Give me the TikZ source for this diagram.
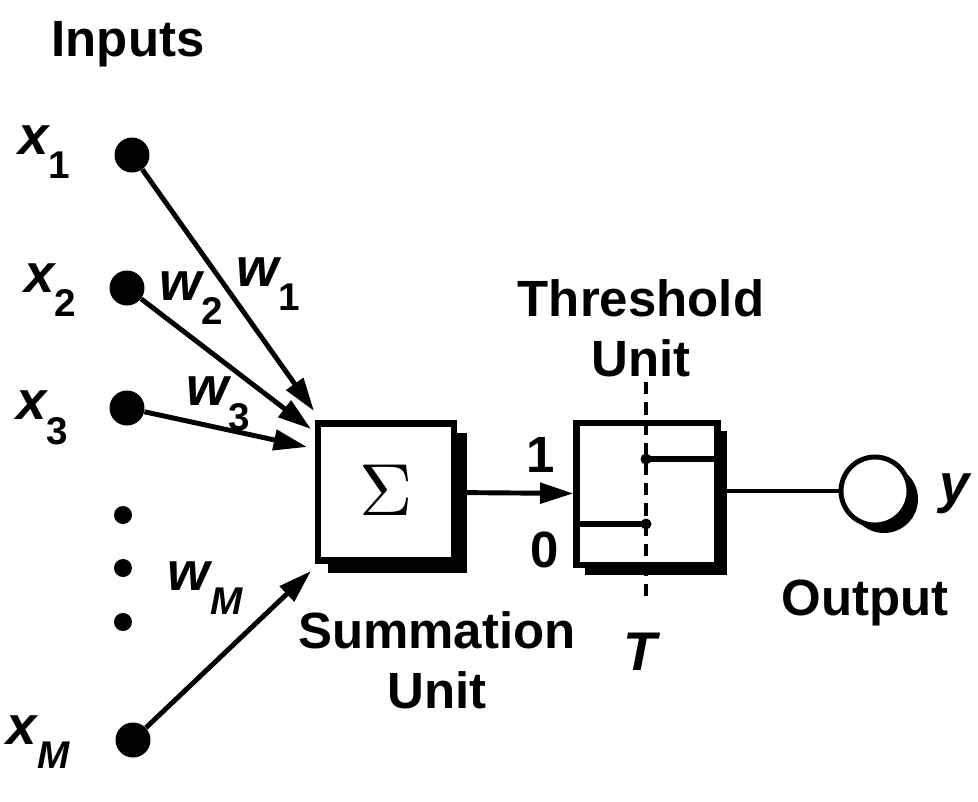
\documentclass[tikz,border=0pt]{standalone}
\usepackage{fontspec}
\usepackage{graphicx}
\setmainfont{Liberation Sans}
\usetikzlibrary{arrows.meta}
\newcommand\subup[1]{\raisebox{-0.45em}{\fontsize{22}{22}\selectfont\upshape #1}}
\newcommand\subit[1]{\raisebox{-0.45em}{\fontsize{22}{22}\selectfont\itshape #1}}
\begin{document}
\begin{tikzpicture}[x=0.02cm,y=-0.02cm,
 lbl/.style={font=\fontsize{29}{34}\selectfont\bfseries, inner sep=0, align=center},
 var/.style={font=\fontsize{31}{31}\selectfont\bfseries\itshape, inner sep=0},
 dot/.style={circle, fill=black, minimum size=0.7cm, inner sep=0},
 smalldot/.style={circle, fill=black, minimum size=0.36cm, inner sep=0},
 wire/.style={line width=2.8pt},
 arr/.style={wire, -{Triangle[length=19pt,width=11.5pt]}},
 boxline/.style={draw, line width=3.6pt, fill=white},
 shadowfill/.style={fill=black},
 dashline/.style={line width=2.8pt, dash pattern=on 7pt off 4.5pt},
 stepline/.style={line width=3.2pt},
 stepdot/.style={circle, fill=black, minimum size=0.22cm, inner sep=0}]
\useasboundingbox (0,0) rectangle (978,802);

% title
\node[lbl] (inputs) at (128,44) {Inputs};

% input dots
\node[dot] (x1) at (132,155) {};
\node[dot] (x2) at (127,288) {};
\node[dot] (x3) at (127,408) {};
\node[smalldot] (d1) at (123,515) {};
\node[smalldot] (d2) at (123,568) {};
\node[smalldot] (d3) at (123,622) {};
\node[dot] (xM) at (133,740) {};

% input labels
\node[var] (lx1) at (44,152) {x\subup{1}};
\node[var] (lx2) at (50,290) {x\subup{2}};
\node[var] (lx3) at (42,418) {x\subup{3}};
\node[var] (lxM) at (38,742) {x\subit{M}};

% summation unit
\fill[shadowfill] (328,433) rectangle (467,573);
\node[boxline, minimum width=2.72cm, minimum height=2.74cm, inner sep=0] (sum) at (386,492) {};
\node (sigma) at (386,490) {\scalebox{4.2}{$\Sigma$}};
\node[lbl] (sumlbl) at (437,660) {Summation\\Unit};

% arrow targets
\coordinate (t1) at (314,411);
\coordinate (t2) at (311,429);
\coordinate (t3) at (307,447);
\coordinate (tM) at (311,571);

\draw[arr] (x1) -- (t1);
\draw[arr] (x2) -- (t2);
\draw[arr] (x3) -- (t3);
\draw[arr] (xM) -- (tM);

% weight labels
\node[var] (w1) at (268,284) {w\subup{1}};
\node[var] (w2) at (191,298) {w\subup{2}};
\node[var] (w3) at (218,404) {w\subup{3}};
\node[var] (wM) at (205,588) {w\subit{M}};

% threshold unit
\fill[shadowfill] (585,431) rectangle (727,575);
\node[boxline, minimum width=2.82cm, minimum height=2.84cm, inner sep=0] (thr) at (647,494) {};
\coordinate (lowL) at (577,524);
\coordinate (lowR) at (646,524);
\coordinate (highL) at (646,459);
\coordinate (highR) at (717,459);
\draw[stepline] (lowL) -- (lowR);
\draw[stepline] (highL) -- (highR);
\node[stepdot] (sd1) at (lowR) {};
\node[stepdot] (sd2) at (highL) {};
\coordinate (dtop) at (646,382);
\coordinate (dbot) at (646,602);
\draw[dashline] (dtop) -- (dbot);
\node[lbl] (one) at (541,455) {1};
\node[lbl] (zero) at (545,550) {0};
\node[lbl] (thrlbl) at (641,328) {Threshold\\Unit};
\node[var] (T) at (640,652) {T};

\draw[arr] (sum) -- (thr);

% output
\node[circle, fill=black, minimum size=1.36cm, inner sep=0] (outsh) at (884,499) {};
\node[circle, draw, fill=white, line width=2.8pt, minimum size=1.36cm, inner sep=0] (out) at (875,491) {};
\draw[wire] (thr.east |- out) -- (out);
\node[var] (y) at (955,494) {y};
\node[lbl] (outlbl) at (865,603) {Output};
\end{tikzpicture}
\end{document}
